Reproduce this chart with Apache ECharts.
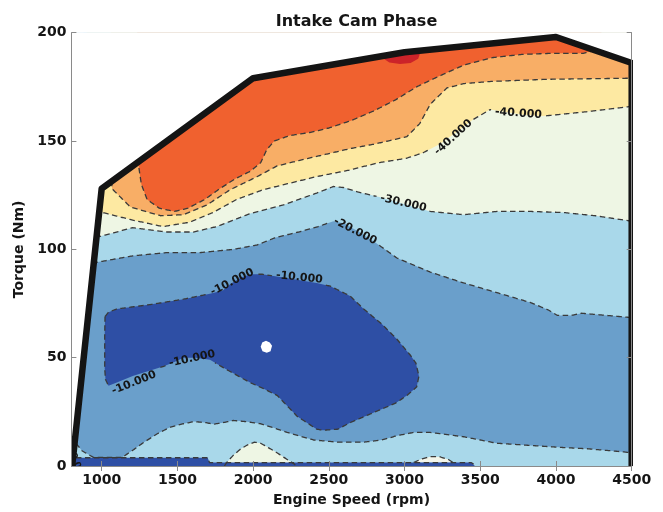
<!DOCTYPE html>
<html><head><meta charset="utf-8">
<script src="https://cdn.jsdelivr.net/npm/echarts@6/dist/echarts.min.js"></script>
<style>html,body{margin:0;padding:0;background:#fff}#c{width:663px;height:512px}</style>
</head><body><div id="c"></div>
<script>
// ---------------- data (rpm, Nm) ----------------
const xTickValues = [1000, 1500, 2000, 2500, 3000, 3500, 4000, 4500];
const yTickValues = [0, 50, 100, 150, 200];

// operating envelope (thick black line)
const envelope = [[805,0],[1000,128],[2000,179],[3000,191],[4000,198],[4500,186],[4500,0]];

// lower boundary of the medium-blue band
const lineBottom = [[800,14],[825,11],[870,7],[945,4],[1135,4],[1200,7],[1280,11],[1370,15],[1455,18],[1540,19.5],[1610,20.5],[1690,20],[1740,19.3],[1800,20],[1870,21],[1950,20.5],[2050,19.5],[2140,17.5],[2225,15.5],[2400,12],[2560,11],[2730,11],[2850,12],[2950,14],[3060,15.5],[3170,15.5],[3280,14.5],[3390,13.5],[3610,10.5],[3830,9.5],[4050,8.5],[4200,8],[4450,6.5],[4500,6]];
// -20 contour (medium blue / light blue)
const lineMinus20 = [[880,93],[965,94],[1205,97],[1430,98.5],[1650,98.5],[1870,100],[2025,102],[2150,105.5],[2300,108],[2430,110.5],[2530,113],[2600,112],[2700,108],[2800,103.5],[2950,96],[3170,89.5],[3390,84.5],[3610,80],[3830,75.5],[3950,72],[4010,69.5],[4100,69.5],[4170,70.5],[4500,68.5]];
// -30 contour (light blue / pale)
const lineMinus30 = [[900,106],[990,106],[1205,110],[1430,108],[1605,108],[1760,110.5],[1980,116.5],[2200,120.5],[2420,126],[2530,129],[2600,128.5],[2690,126.5],[2840,124],[2990,121],[3170,117.5],[3390,116],[3610,117.5],[3830,117.5],[4050,117],[4260,115.5],[4500,113]];
// -40 contour (pale / yellow)
const lineMinus40 = [[900,120],[1005,117],[1205,113.5],[1405,110.5],[1580,112.5],[1735,117],[1890,123],[2065,127.5],[2240,130.5],[2415,133.5],[2630,136.5],[2830,140],[3010,142],[3120,144.5],[3230,148.5],[3330,153.5],[3455,160],[3565,164.5],[3700,163],[3800,162],[3915,161.5],[4200,163.5],[4500,166]];
// yellow / light orange
const lineOrange = [[1060,140],[1068,128],[1190,119.5],[1390,115.5],[1540,116],[1695,120.5],[1848,127.5],[2025,133.5],[2158,138.5],[2333,141.5],[2488,144],[2641,146.5],[2795,148.5],[3015,152],[3100,158],[3170,167],[3280,174.5],[3390,176.5],[3570,177.5],[3945,178.5],[4500,179]];
// light orange / orange-red
const lineRed = [[1235,150],[1245,138],[1262,130],[1300,123],[1380,119],[1480,117.5],[1570,119],[1680,123],[1780,128],[1880,132.5],[1980,136],[2050,140],[2090,146],[2140,150],[2240,152.5],[2380,154],[2500,156],[2650,159.5],[2800,164],[2940,169],[3080,175],[3230,180],[3390,185],[3580,188.5],[3780,190],[3980,190.5],[4180,190.5],[4260,192],[4300,200]];
// -10 closed contour (dark blue blob)
const blobMinus10 = [[1022,69],[1045,71],[1100,72.5],[1320,74.5],[1540,77],[1715,79.5],[1800,81],[1850,84],[1920,87],[1985,88.5],[2060,88.5],[2200,87],[2420,84.5],[2510,83],[2640,78.5],[2730,72.5],[2850,65.5],[2950,58.5],[3040,51],[3075,47.5],[3095,41.5],[3080,36.5],[3015,32.5],[2940,29],[2840,26],[2640,20],[2560,17],[2460,16.5],[2420,17],[2290,23],[2160,32.5],[2060,36],[1980,38.5],[1825,44.5],[1715,49],[1620,50],[1540,50],[1480,48],[1410,46],[1205,41.5],[1100,38.5],[1045,37],[1025,40],[1020,45],[1020,60]];
const whiteSpot = [[2050,55],[2060,57],[2085,57.8],[2110,57],[2125,55.5],[2115,53],[2090,52.3],[2062,53]];
const darkRedSpot = [[2830,192],[2850,188.5],[2900,186.3],[2970,185.5],[3040,186],[3090,188],[3110,192]];
const bottomPaleBump = [[1810,0],[1830,2],[1870,5],[1920,8],[1970,10],[2010,11],[2050,10.5],[2100,8.5],[2160,6],[2225,3],[2270,1],[2285,0]];
const bottomPaleBlob = [[3060,1.6],[3110,3.2],[3170,4.3],[3230,4.3],[3290,3],[3320,1.6]];
const bottomStrip = [[800,0],[800,3.8],[1700,3.8],[1712,1.6],[3440,1.6],[3465,0]];
const bottomStripEdge = [[830,3.8],[1700,3.8],[1712,1.6],[3440,1.6],[3465,0.5]];

// contour labels: [rpm, Nm, text, contour]
const contourLabels = [
  [3752, 162.7, '-40.000', 'm40'],
  [3322, 151.7, '-40.000', 'm40'],
  [2992, 121.3, '-30.000', 'm30'],
  [2674, 108.4, '-20.000', 'm20'],
  [1862, 84.9, '-10.000', 'm10'],
  [2305, 87.0, '-10.000', 'm10'],
  [1598, 49.5, '-10.000', 'm10'],
  [1214, 38.4, '-10.000', 'm10'],
  [826, 2.5, '0.0', 'none']
];
const labelAngles = [-4, 42, -13, -27, 27, -6, 12, 22, -70];

// ---------------- drawing ----------------
const C = {
  dkblue: '#2e4fa5', mdblue: '#6a9fcb', ltblue: '#a9d8ea', pale: '#eef6e4',
  yellow: '#fde9a2', ltorange: '#f8ae66', orange: '#f0612f', dkred: '#cc2329'
};
const FONT = '"DejaVu Sans", sans-serif';

function renderAll(params, api) {
  if (params.dataIndex !== 0) return null;
  const P = pts => pts.map(p => api.coord(p));
  const above = line => line.concat([[line[line.length - 1][0], 200], [line[0][0], 200]]);
  const poly = (pts, color) => ({ type: 'polygon', shape: { points: P(pts) }, style: { fill: color, stroke: null } });
  const kids = [];

  // filled bands, painted bottom to top
  kids.push(poly([[800,0],[4500,0],[4500,200],[800,200]], C.ltblue));
  kids.push(poly(above(lineBottom), C.mdblue));
  kids.push(poly(above(lineMinus20), C.ltblue));
  kids.push(poly(above(lineMinus30), C.pale));
  kids.push(poly(above(lineMinus40), C.yellow));
  kids.push(poly(above(lineOrange), C.ltorange));
  kids.push(poly(above(lineRed), C.orange));
  kids.push(poly(darkRedSpot, C.dkred));
  kids.push(poly(blobMinus10, C.dkblue));
  kids.push(poly(whiteSpot, '#ffffff'));
  kids.push(poly(bottomPaleBump, C.pale));
  kids.push(poly(bottomPaleBlob, '#f4f6ea'));
  kids.push(poly(bottomStrip, C.dkblue));

  // label geometry (for inline gaps)
  const labs = contourLabels.map((l, i) => {
    const c = api.coord([l[0], l[1]]);
    const a = labelAngles[i] * Math.PI / 180;
    const hw = l[2].length * 3.4 + 3;
    return { c, a, hw, hh: 8, text: l[2], line: l[3], size: l[3] === 'none' ? 9 : 11 };
  });
  function inGap(x, y, key) {
    for (const g of labs) {
      if (g.line !== key) continue;
      const dx = x - g.c[0], dy = y - g.c[1];
      const u = dx * Math.cos(g.a) - dy * Math.sin(g.a);
      const v = dx * Math.sin(g.a) + dy * Math.cos(g.a);
      if (Math.abs(u) < g.hw && Math.abs(v) < g.hh) return true;
    }
    return false;
  }
  function dashed(pts, closed, key) {
    let px = P(pts);
    if (closed) px = px.concat([px[0]]);
    const runs = []; let cur = [];
    for (let i = 0; i < px.length - 1; i++) {
      const a = px[i], b = px[i + 1];
      const L = Math.hypot(b[0] - a[0], b[1] - a[1]);
      const n = Math.max(1, Math.ceil(L));
      for (let k = (i === 0 ? 0 : 1); k <= n; k++) {
        const t = k / n;
        const x = a[0] + (b[0] - a[0]) * t, y = a[1] + (b[1] - a[1]) * t;
        if (inGap(x, y, key)) { if (cur.length > 1) runs.push(cur); cur = []; }
        else cur.push([x, y]);
      }
    }
    if (cur.length > 1) runs.push(cur);
    runs.forEach(r => kids.push({
      type: 'polyline', shape: { points: r },
      style: { stroke: '#3a3a3a', lineWidth: 1.3, lineDash: [5.5, 3.5], fill: null }
    }));
  }
  dashed(lineBottom, false, 'bot');
  dashed(lineMinus20, false, 'm20');
  dashed(lineMinus30, false, 'm30');
  dashed(lineMinus40, false, 'm40');
  dashed(lineOrange, false, 'or');
  dashed(lineRed, false, 'red');
  dashed(blobMinus10, true, 'm10');
  dashed(bottomPaleBump, false, 'bump');
  dashed(bottomPaleBlob, false, 'blob');
  dashed(bottomStripEdge, false, 'strip');

  labs.forEach(g => kids.push({
    type: 'text', x: g.c[0], y: g.c[1], rotation: g.a,
    style: {
      text: g.text, fill: '#151515', fontFamily: FONT, fontWeight: 'bold', fontSize: g.size,
      align: 'center', verticalAlign: 'middle'
    }
  }));

  // white outside the envelope
  const maskPts = [[800,0]].concat(envelope.slice(0, envelope.length - 1)).concat([[4500,200],[800,200]]);
  kids.push(poly(maskPts, '#ffffff'));
  // envelope line
  kids.push({
    type: 'polyline', shape: { points: P(envelope) },
    style: { stroke: '#141414', lineWidth: 6.5, fill: null, lineJoin: 'round', lineCap: 'butt' }
  });
  return { type: 'group', children: kids };
}

const axisLineStyle = { show: true, lineStyle: { color: '#8a8a8a', width: 1 } };
const labelStyle = { color: '#151515', fontFamily: FONT, fontWeight: 'bold', fontSize: 14, formatter: v => String(v) };

const chart = echarts.init(document.getElementById('c'), null, { renderer: 'canvas' });
chart.setOption({
  animation: false,
  backgroundColor: '#ffffff',
  title: {
    text: 'Intake Cam Phase', left: 351.5, top: 9, textAlign: 'center',
    textStyle: { color: '#151515', fontFamily: FONT, fontWeight: 'bold', fontSize: 16 }
  },
  grid: { left: 71.4, right: 31.3, top: 32.7, bottom: 44.5, containLabel: false },
  xAxis: [{
    type: 'value', min: 800, max: 4500, position: 'bottom', z: 10,
    axisLine: axisLineStyle,
    axisTick: { show: true, inside: true, length: 5, customValues: xTickValues, lineStyle: { color: '#8a8a8a' } },
    axisLabel: Object.assign({ customValues: xTickValues, margin: 7 }, labelStyle),
    splitLine: { show: false },
    name: 'Engine Speed (rpm)', nameLocation: 'middle', nameGap: 27,
    nameTextStyle: { color: '#151515', fontFamily: FONT, fontWeight: 'bold', fontSize: 14 }
  }, {
    type: 'value', min: 800, max: 4500, position: 'top', z: 10,
    axisLine: axisLineStyle,
    axisTick: { show: true, inside: true, length: 5, customValues: xTickValues, lineStyle: { color: '#8a8a8a' } },
    axisLabel: { show: false }, splitLine: { show: false }
  }],
  yAxis: [{
    type: 'value', min: 0, max: 200, interval: 50, position: 'left', z: 10,
    axisLine: axisLineStyle,
    axisTick: { show: true, inside: true, length: 5, lineStyle: { color: '#8a8a8a' } },
    axisLabel: Object.assign({ margin: 5 }, labelStyle),
    splitLine: { show: false },
    name: 'Torque (Nm)', nameLocation: 'middle', nameGap: 38, nameRotate: 90,
    nameTextStyle: { color: '#151515', fontFamily: FONT, fontWeight: 'bold', fontSize: 14 }
  }, {
    type: 'value', min: 0, max: 200, interval: 50, position: 'right', z: 10,
    axisLine: axisLineStyle,
    axisTick: { show: true, inside: true, length: 5, lineStyle: { color: '#8a8a8a' } },
    axisLabel: { show: false }, splitLine: { show: false }
  }],
  series: [{
    type: 'custom', coordinateSystem: 'cartesian2d', xAxisIndex: 0, yAxisIndex: 0,
    clip: true, silent: true, z: 1,
    renderItem: renderAll,
    data: [[800, 0]]
  }]
});
</script>
</body></html>
